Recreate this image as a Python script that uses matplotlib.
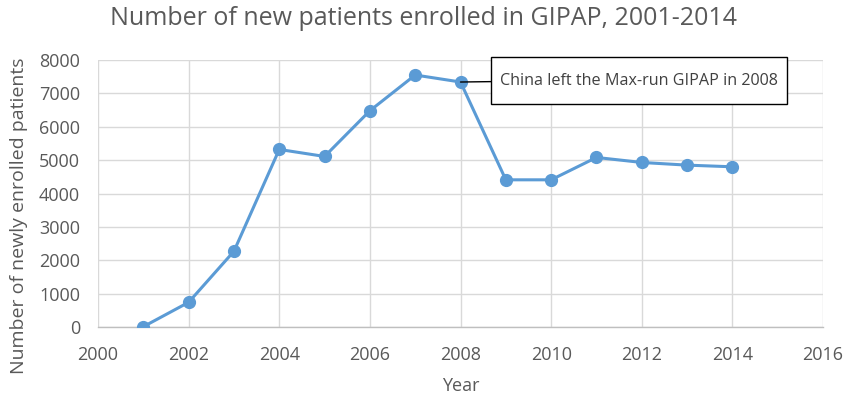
import matplotlib
matplotlib.use("Agg")
import matplotlib.pyplot as plt
from matplotlib.patches import Rectangle

years = [2001, 2002, 2003, 2004, 2005, 2006, 2007, 2008, 2009, 2010, 2011, 2012, 2013, 2014]
patients = [10, 740, 2270, 5320, 5110, 6480, 7550, 7340, 4410, 4410, 5080, 4930, 4850, 4800]
title = "Number of new patients enrolled in GIPAP, 2001-2014"
xlabel = "Year"
ylabel = "Number of newly enrolled patients"
note = "China left the Max-run GIPAP in 2008"
note_year = 2008
note_value = 7340

plt.rcParams['font.family'] = ['Open Sans', 'DejaVu Sans']
txt = '#595959'
grid = '#D9D9D9'

fig = plt.figure(figsize=(8.47, 4.01), dpi=100)
ax = fig.add_axes([0.1157, 0.1845, 0.8560, 0.6659])

ax.plot(years, patients, color='#5B9BD5', lw=2.2, marker='o', ms=8.5, zorder=3)

ax.set_xlim(2000, 2016)
ax.set_ylim(0, 8000)
ax.set_xticks(range(2000, 2017, 2))
ax.set_yticks(range(0, 8001, 1000))
ax.grid(True, color=grid, lw=1.0)
ax.set_axisbelow(True)
for s in ['top', 'right', 'left']:
    ax.spines[s].set_visible(False)
ax.spines['bottom'].set_color('#BFBFBF')
ax.spines['bottom'].set_linewidth(1.0)
ax.tick_params(length=0, labelsize=13, colors=txt)
ax.tick_params(axis='x', pad=14)
ax.tick_params(axis='y', pad=13)

ax.set_xlabel(xlabel, fontsize=13, color=txt)
ax.set_ylabel(ylabel, fontsize=14, color=txt)
ax.xaxis.set_label_coords(0.5, -0.187)
ax.yaxis.set_label_coords(-0.097, 0.416)
fig.suptitle(title, fontsize=18, color=txt, y=0.985)

# annotation callout
bx0, bx1, by0, by1 = 0.542, 0.950, 0.835, 1.011
ax.add_patch(Rectangle((bx0, by0), bx1 - bx0, by1 - by0, transform=ax.transAxes,
                       fc='white', ec='black', lw=1.0, clip_on=False, zorder=4))
ax.text((bx0 + bx1) / 2, (by0 + by1) / 2, note, transform=ax.transAxes,
        ha='center', va='center', fontsize=11.6, color='#404040', zorder=5)
ax.annotate('', xy=(note_year, note_value), xytext=(bx0, 0.919),
            textcoords='axes fraction',
            arrowprops=dict(arrowstyle='-', color='black', lw=1.0, shrinkA=0, shrinkB=0),
            zorder=4)

fig.savefig('out.png', dpi=100)
